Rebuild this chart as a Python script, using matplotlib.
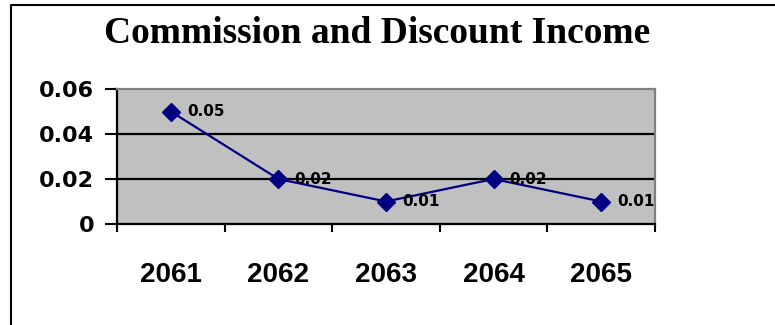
import matplotlib
matplotlib.use("Agg")
import matplotlib.pyplot as plt
from matplotlib.lines import Line2D
from matplotlib.ticker import FixedLocator, NullFormatter

# Chart data
years = ["2061", "2062", "2063", "2064", "2065"]
income = [0.05, 0.02, 0.01, 0.02, 0.01]
y_ticks = [0, 0.02, 0.04, 0.06]
y_tick_labels = ["0", "0.02", "0.04", "0.06"]
title = "Commission and Discount Income"

W, H = 775, 325
fig = plt.figure(figsize=(W / 100, H / 100), dpi=100)
fig.patch.set_facecolor("white")

# Plot area placed in pixel terms
left, right, top, bottom = 117, 655, 89, 224
ax = fig.add_axes([left / W, (H - bottom) / H, (right - left) / W, (bottom - top) / H])
ax.set_facecolor("#C0C0C0")

x = list(range(len(years)))
ax.plot(x, income, color="#000080", lw=1.6, marker="D", markersize=9,
        markerfacecolor="#000080", markeredgecolor="#000080", zorder=3)

for xi, v in zip(x, income):
    ax.annotate(f"{v:g}", (xi, v), xytext=(11.5, 0), textcoords="offset points",
                va="center", ha="left", fontsize=11, fontweight="bold",
                family="DejaVu Sans", color="black", zorder=4)

ax.set_xlim(-0.5, len(years) - 0.5)
ax.set_ylim(0, 0.06)

# Horizontal gridlines
for gy in y_ticks[1:-1]:
    ax.axhline(gy, color="black", lw=1.6, zorder=1)

# Category axis: labels at centres, tick marks between categories
ax.set_xticks(x)
ax.set_xticklabels(years, fontsize=20, fontweight="bold", family="Liberation Sans")
ax.tick_params(axis="x", which="major", length=0, pad=27)
ax.xaxis.set_minor_locator(FixedLocator([i - 0.5 for i in range(len(years) + 1)]))
ax.xaxis.set_minor_formatter(NullFormatter())
ax.tick_params(axis="x", which="minor", length=5.5, width=1.5, direction="out", color="black")

ax.set_yticks(y_ticks)
ax.set_yticklabels(y_tick_labels, fontsize=16, fontweight="bold", family="DejaVu Sans")
ax.tick_params(axis="y", length=8.5, width=1.5, direction="out", pad=8, color="black")

for side in ("left", "bottom"):
    ax.spines[side].set_color("black")
    ax.spines[side].set_linewidth(1.6)
for side in ("top", "right"):
    ax.spines[side].set_color("#808080")
    ax.spines[side].set_linewidth(1.6)

fig.text(377 / W, (H - 43) / H, title, ha="center", va="baseline",
         fontsize=27, fontweight="bold", family="Liberation Serif")

# Outer frame (top and left edges)
fig.add_artist(Line2D([11 / W, 11 / W, 1.0], [0.0, 1 - 5 / H, 1 - 5 / H],
                      transform=fig.transFigure, color="black", lw=1.5))

fig.savefig("out.png", dpi=100)
